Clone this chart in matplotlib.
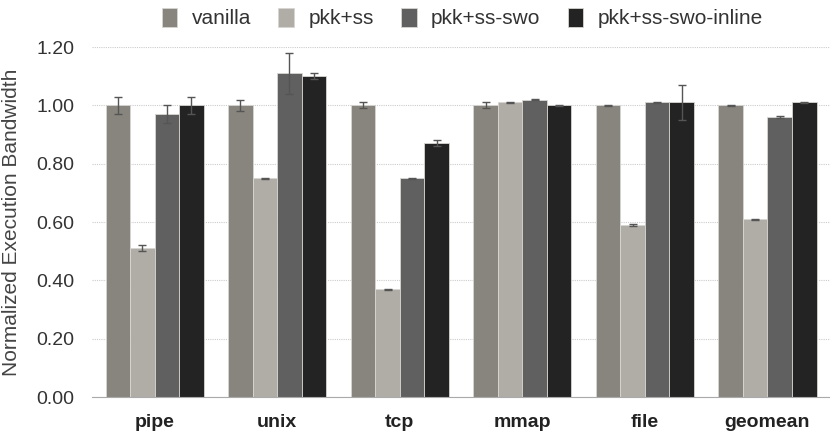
import matplotlib.pyplot as plt
import numpy as np

plt.rcParams['font.family'] = ['Liberation Sans', 'DejaVu Sans']

# benchmark groups
groups = ["pipe", "unix", "tcp", "mmap", "file", "geomean"]
configs = ["vanilla", "pkk+ss", "pkk+ss-swo", "pkk+ss-swo-inline"]

# normalized bandwidth per config
vanilla = [1.00, 1.00, 1.00, 1.00, 1.00, 1.00]
pkk_ss = [0.51, 0.75, 0.37, 1.01, 0.59, 0.61]
pkk_ss_swo = [0.97, 1.11, 0.75, 1.02, 1.01, 0.96]
pkk_ss_swo_inline = [1.00, 1.10, 0.87, 1.00, 1.01, 1.01]

# error bars
vanilla_err = [0.03, 0.02, 0.01, 0.01, 0.002, 0.002]
pkk_ss_err = [0.01, 0.002, 0.002, 0.002, 0.002, 0.002]
pkk_ss_swo_err = [0.03, 0.07, 0.002, 0.002, 0.002, 0.002]
pkk_ss_swo_inline_err = [0.03, 0.01, 0.01, 0.002, 0.06, 0.002]

colors = ["#88857e", "#b0aca6", "#606060", "#232323"]

series = [vanilla, pkk_ss, pkk_ss_swo, pkk_ss_swo_inline]
errors = [vanilla_err, pkk_ss_err, pkk_ss_swo_err, pkk_ss_swo_inline_err]

fig = plt.figure(figsize=(8.3, 4.32), dpi=100)
ax = fig.add_axes([0.111, 0.081, 0.889, 0.81])

x = np.arange(len(groups))
w = 0.2
for i, (vals, errs) in enumerate(zip(series, errors)):
    ax.bar(x + (i - 1.5) * w, vals, w, color=colors[i], edgecolor="#d8d6d2",
           linewidth=0.6, label=configs[i], zorder=2,
           yerr=errs, error_kw=dict(ecolor="#555555", elinewidth=1, capsize=3, capthick=1))

ax.set_xlim(-0.51, 5.51)
ax.set_ylim(0, 1.2)
ax.set_yticks(np.arange(0, 1.21, 0.2))
ax.set_yticklabels([f"{v:.2f}" for v in np.arange(0, 1.21, 0.2)], fontsize=14, color="#333333")
ax.set_xticks(x)
ax.set_xticklabels(groups, fontsize=14, fontweight="bold", color="#222222")
ax.tick_params(axis="y", length=0, pad=13)
ax.tick_params(axis="x", length=0, pad=12)
ax.yaxis.grid(True, linestyle=(0, (1, 1)), color="#cccccc", linewidth=0.8, zorder=0)
for s in ["top", "right", "left"]:
    ax.spines[s].set_visible(False)
ax.spines["bottom"].set_color("#aaaaaa")
ax.set_ylabel("Normalized Execution Bandwidth", fontsize=15, color="#444444", labelpad=11)

fig.legend(loc="upper center", bbox_to_anchor=(0.557, 1.025), ncol=4, frameon=False,
           fontsize=15, handlelength=0.75, handleheight=1.0, columnspacing=1.3,
           handletextpad=0.7, labelcolor="#333333")

fig.savefig("out.png", dpi=100)
